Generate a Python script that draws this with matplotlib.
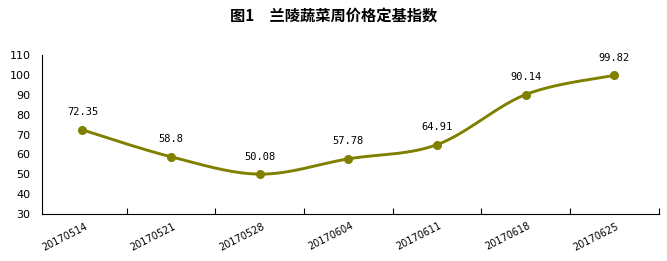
import numpy as np
import matplotlib
matplotlib.use('Agg')
import matplotlib.pyplot as plt

plt.rcParams['font.family'] = ['DejaVu Sans', 'Noto Sans CJK SC']

weeks = ['20170514', '20170521', '20170528', '20170604',
         '20170611', '20170618', '20170625']
index_vals = [72.35, 58.8, 50.08, 57.78, 64.91, 90.14, 99.82]
value_labels = ['72.35', '58.8', '50.08', '57.78', '64.91', '90.14', '99.82']
yticks = [30, 40, 50, 60, 70, 80, 90, 100, 110]

LINE_COLOR = '#808000'


def smooth(xs, ys, n=30):
    # catmull-rom style smoothing, like the office "smoothed line" option
    xs = np.asarray(xs, float)
    ys = np.asarray(ys, float)
    px = np.concatenate([[xs[0]], xs, [xs[-1]]])
    py = np.concatenate([[ys[0]], ys, [ys[-1]]])
    out_x, out_y = [], []
    for i in range(1, len(px) - 2):
        p0, p1, p2, p3 = (np.array([px[j], py[j]]) for j in (i - 1, i, i + 1, i + 2))
        c1 = p1 + (p2 - p0) / 6.0
        c2 = p2 - (p3 - p1) / 6.0
        t = np.linspace(0, 1, n)[:, None]
        b = ((1 - t) ** 3) * p1 + 3 * ((1 - t) ** 2) * t * c1 + 3 * (1 - t) * t ** 2 * c2 + t ** 3 * p2
        out_x.extend(b[:, 0])
        out_y.extend(b[:, 1])
    return out_x, out_y


fig = plt.figure(figsize=(6.67, 2.61), dpi=100)
ax = fig.add_axes([0.0625, 0.18, 0.925, 0.609])

x = np.arange(len(weeks))
sx, sy = smooth(x, index_vals)
ax.plot(sx, sy, color=LINE_COLOR, linewidth=2.1, solid_capstyle='round', zorder=2)
ax.plot(x, index_vals, 'o', color=LINE_COLOR, markersize=5.5, zorder=3)

for xi, v, lab in zip(x, index_vals, value_labels):
    ax.annotate(lab, (xi, v), xytext=(0, 9), textcoords='offset points',
                ha='center', va='bottom', fontsize=7.5, family='DejaVu Sans Mono')

ax.set_xlim(-0.46, len(weeks) - 0.5)
ax.set_ylim(30, 110)
ax.set_yticks(yticks)
ax.set_yticklabels([str(t) for t in yticks], fontsize=8)
ax.tick_params(axis='y', length=0, pad=8)

ax.set_xticks(x + 0.5, minor=False)
ax.set_xticklabels([])
ax.tick_params(axis='x', direction='in', length=4, width=0.8)
for xi, lab in zip(x, weeks):
    ax.text(xi + 0.02, 26.5, lab, rotation=27, rotation_mode='anchor',
            ha='right', va='top', fontsize=7, transform=ax.transData)

ax.spines['top'].set_visible(False)
ax.spines['right'].set_visible(False)
ax.spines['left'].set_linewidth(0.8)
ax.spines['bottom'].set_linewidth(0.8)

fig.text(0.5, 0.935, '图1　兰陵蔬菜周价格定基指数', ha='center', va='center',
         fontsize=11, fontweight='bold', family=['Noto Sans CJK SC', 'DejaVu Sans'])

fig.savefig('out.png', dpi=100)
